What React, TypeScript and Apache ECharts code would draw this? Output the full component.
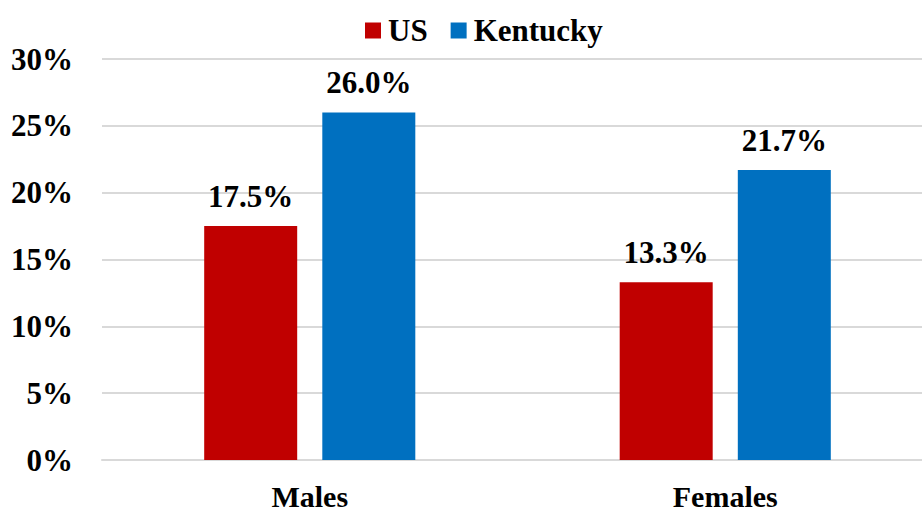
import React, { useEffect, useRef } from "react";
import * as echarts from "echarts";

const categories = ["Males", "Females"];
const usValues = [17.5, 13.3];
const kentuckyValues = [26.0, 21.7];
const yTicks = [0, 5, 10, 15, 20, 25, 30];

const FONT = "Liberation Serif";

export default function App() {
  const ref = useRef<HTMLDivElement>(null);
  useEffect(() => {
    if (!ref.current) return;
    const chart = echarts.init(ref.current, null, { renderer: "svg" });
    const labelStyle = {
      show: true,
      position: "top" as const,
      distance: 14,
      fontFamily: FONT,
      fontWeight: "bold" as const,
      fontSize: 31,
      color: "#000",
      formatter: (p: any) => `${Number(p.value).toFixed(1)}%`,
    };
    chart.setOption({
      animation: false,
      backgroundColor: "#fff",
      legend: {
        top: 10,
        left: 360,
        itemWidth: 16,
        itemHeight: 16,
        itemGap: 23,
        icon: "rect",
        textStyle: { fontFamily: FONT, fontWeight: "bold", fontSize: 31, color: "#000", padding: [0, 0, 0, 2] },
        data: ["US", "Kentucky"],
      },
      grid: { left: 102, right: 0, top: 59, bottom: 52, containLabel: false },
      xAxis: {
        type: "category",
        data: categories,
        axisLine: { show: true, lineStyle: { color: "#D9D9D9", width: 2 } },
        axisTick: { show: false },
        axisLabel: { fontFamily: FONT, fontWeight: "bold", fontSize: 30, color: "#000", margin: 21 },
      },
      yAxis: {
        type: "value",
        min: yTicks[0],
        max: yTicks[yTicks.length - 1],
        interval: 5,
        axisLine: { show: false },
        axisTick: { show: false },
        splitLine: { lineStyle: { color: "#D9D9D9", width: 2 } },
        axisLabel: {
          fontFamily: FONT,
          fontWeight: "bold",
          fontSize: 31,
          color: "#000",
          margin: 29,
          formatter: (v: number) => `${v}%`,
        },
      },
      series: [
        {
          name: "US",
          type: "bar",
          data: usValues,
          barWidth: 93,
          barGap: "27%",
          itemStyle: { color: "#C00000" },
          label: labelStyle,
        },
        {
          name: "Kentucky",
          type: "bar",
          data: kentuckyValues,
          barWidth: 93,
          barGap: "27%",
          itemStyle: { color: "#0070C0" },
          label: labelStyle,
        },
      ],
    });
    return () => chart.dispose();
  }, []);
  return (
    <div style={{ width: 922, height: 512, position: "absolute", left: 0, top: 0, overflow: "hidden" }}>
      <div ref={ref} style={{ width: 933, height: 512 }} />
    </div>
  );
}
